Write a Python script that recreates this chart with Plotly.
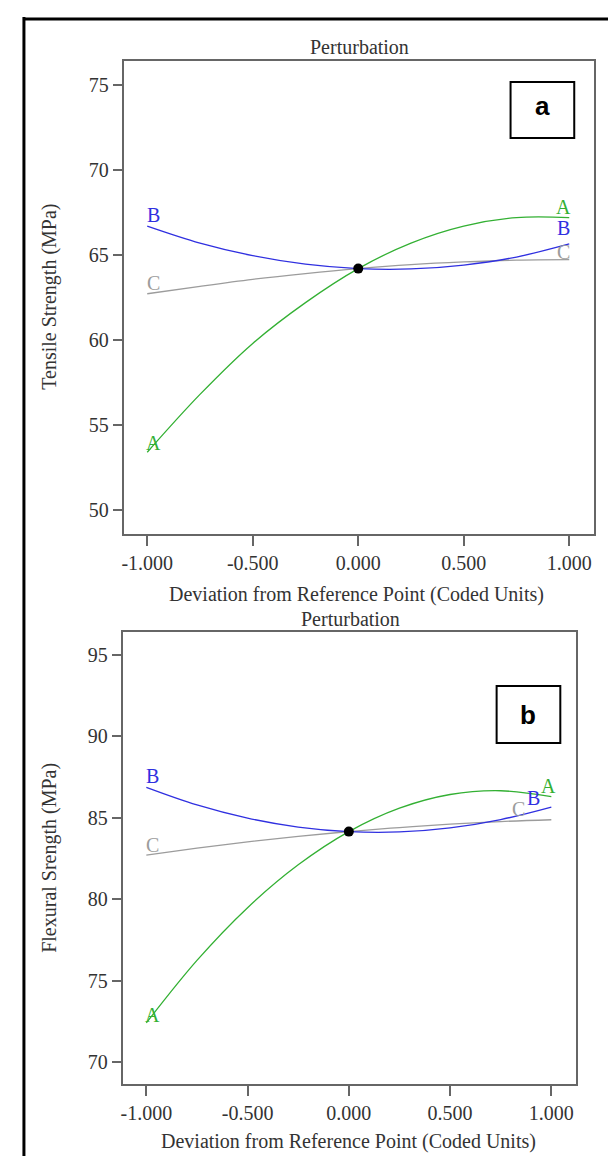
import plotly.graph_objects as go

W, H = 616, 1156

# ---- data ----
x_dev = [-1.0, -0.75, -0.5, -0.25, 0.0, 0.25, 0.5, 0.75, 1.0]

tensile_A = [53.4, 56.8, 59.8, 62.2, 64.2, 65.7, 66.7, 67.2, 67.2]
tensile_B = [66.7, 65.7, 64.96, 64.46, 64.2, 64.18, 64.41, 64.88, 65.65]
tensile_C = [62.72, 63.16, 63.57, 63.91, 64.2, 64.43, 64.59, 64.70, 64.73]
tensile_ref = 64.2

flex_A = [72.4, 76.24, 79.48, 82.11, 84.15, 85.59, 86.43, 86.66, 86.3]
flex_B = [86.87, 85.79, 84.98, 84.43, 84.15, 84.13, 84.38, 84.89, 85.66]
flex_C = [82.70, 83.13, 83.52, 83.86, 84.15, 84.40, 84.61, 84.77, 84.88]
flex_ref = 84.15

x_tickvals = [-1.0, -0.5, 0.0, 0.5, 1.0]
x_ticktext = ["-1.000", "-0.500", "0.000", "0.500", "1.000"]
tensile_ticks = [50, 55, 60, 65, 70, 75]
flex_ticks = [70, 75, 80, 85, 90, 95]

series_names = ["A", "B", "C"]
colors = {"A": "#33B033", "B": "#3030E0", "C": "#9C9C9C"}

SERIF = "Liberation Serif"
FS = 20

def px_x(px):
    return px / W

def px_y(py):
    return 1 - py / H

fig = go.Figure()

panels = [
    dict(xa="x", ya="y", data={"A": tensile_A, "B": tensile_B, "C": tensile_C}, ref=tensile_ref),
    dict(xa="x2", ya="y2", data={"A": flex_A, "B": flex_B, "C": flex_C}, ref=flex_ref),
]

for p in panels:
    for name in ["C", "B", "A"]:
        fig.add_trace(go.Scatter(
            x=x_dev, y=p["data"][name], mode="lines", name=name,
            line=dict(color=colors[name], width=1.3, shape="spline", smoothing=1.0),
            xaxis=p["xa"], yaxis=p["ya"], showlegend=False, hoverinfo="skip"))
    fig.add_trace(go.Scatter(
        x=[0.0], y=[p["ref"]], mode="markers",
        marker=dict(color="black", size=10),
        xaxis=p["xa"], yaxis=p["ya"], showlegend=False))

axis_common = dict(
    showline=True, mirror=True, linecolor="#666666", linewidth=1.5,
    ticks="outside", ticklen=10, tickwidth=1.5, tickcolor="#666666",
    showgrid=False, zeroline=False,
    tickfont=dict(family=SERIF, size=FS, color="#333333"),
)

fig.update_layout(
    width=W, height=H,
    margin=dict(l=0, r=0, t=0, b=0),
    paper_bgcolor="white", plot_bgcolor="white",
    xaxis=dict(domain=[px_x(114), px_x(586)], range=[-1.108, 1.118],
               tickvals=x_tickvals, ticktext=x_ticktext, anchor="y", **axis_common),
    yaxis=dict(domain=[px_y(526), px_y(53)], range=[48.59, 76.41],
               tickvals=tensile_ticks, anchor="x", **axis_common),
    xaxis2=dict(domain=[px_x(113), px_x(568)], range=[-1.113, 1.123],
                tickvals=x_tickvals, ticktext=x_ticktext, anchor="y2", **axis_common),
    yaxis2=dict(domain=[px_y(1076), px_y(624)], range=[68.65, 96.41],
                tickvals=flex_ticks, anchor="x2", **axis_common),
)

ann = []
# curve letter labels
lab_top = [("B", -0.972, 67.35), ("C", -0.972, 63.35), ("A", -0.972, 53.94),
           ("A", 0.972, 67.8), ("B", 0.972, 66.6), ("C", 0.972, 65.15)]
lab_bot = [("B", -0.97, 87.57), ("C", -0.97, 83.33), ("A", -0.97, 72.89),
           ("A", 0.985, 86.95), ("B", 0.91, 86.22), ("C", 0.84, 85.54)]
for (t, x, y) in lab_top:
    ann.append(dict(x=x, y=y, xref="x", yref="y", text=t, showarrow=False,
                    font=dict(family=SERIF, size=FS, color=colors[t])))
for (t, x, y) in lab_bot:
    ann.append(dict(x=x, y=y, xref="x2", yref="y2", text=t, showarrow=False,
                    font=dict(family=SERIF, size=FS, color=colors[t])))

def txt(text, px, py, size=FS, angle=0):
    return dict(x=px_x(px), y=px_y(py), xref="paper", yref="paper", text=text,
                showarrow=False, textangle=angle, xanchor="center", yanchor="middle",
                font=dict(family=SERIF, size=size, color="#333333"))

ann += [
    txt("Perturbation", 350, 39),
    txt("Perturbation", 341, 611),
    txt("Deviation from Reference Point (Coded Units)", 347, 586),
    txt("Deviation from Reference Point (Coded Units)", 339, 1133),
    txt("Tensile Strength (MPa)", 38, 289, FS, -90),
    txt("Flexural Srength (MPa)", 38, 850, FS, -90),
    dict(x=px_x(534), y=px_y(98), xref="paper", yref="paper", text="<b>a</b>",
         showarrow=False, xanchor="center", yanchor="middle",
         font=dict(family="Liberation Sans", size=26, color="black")),
    dict(x=px_x(520), y=px_y(707), xref="paper", yref="paper", text="<b>b</b>",
         showarrow=False, xanchor="center", yanchor="middle",
         font=dict(family="Liberation Sans", size=26, color="black")),
]
fig.update_layout(annotations=ann)

shapes = [
    dict(type="rect", xref="paper", yref="paper", x0=px_x(502), x1=px_x(566),
         y0=px_y(130), y1=px_y(74), line=dict(color="black", width=2), fillcolor="white", layer="below"),
    dict(type="rect", xref="paper", yref="paper", x0=px_x(488), x1=px_x(552),
         y0=px_y(735), y1=px_y(678), line=dict(color="black", width=2), fillcolor="white", layer="below"),
    # outer frame (left and top edges visible)
    dict(type="line", xref="paper", yref="paper", x0=px_x(13), x1=px_x(13),
         y0=px_y(9), y1=px_y(1160), line=dict(color="black", width=3)),
    dict(type="line", xref="paper", yref="paper", x0=px_x(12), x1=px_x(620),
         y0=px_y(11), y1=px_y(11), line=dict(color="black", width=3)),
]
fig.update_layout(shapes=shapes)

fig.write_html("out.html")
